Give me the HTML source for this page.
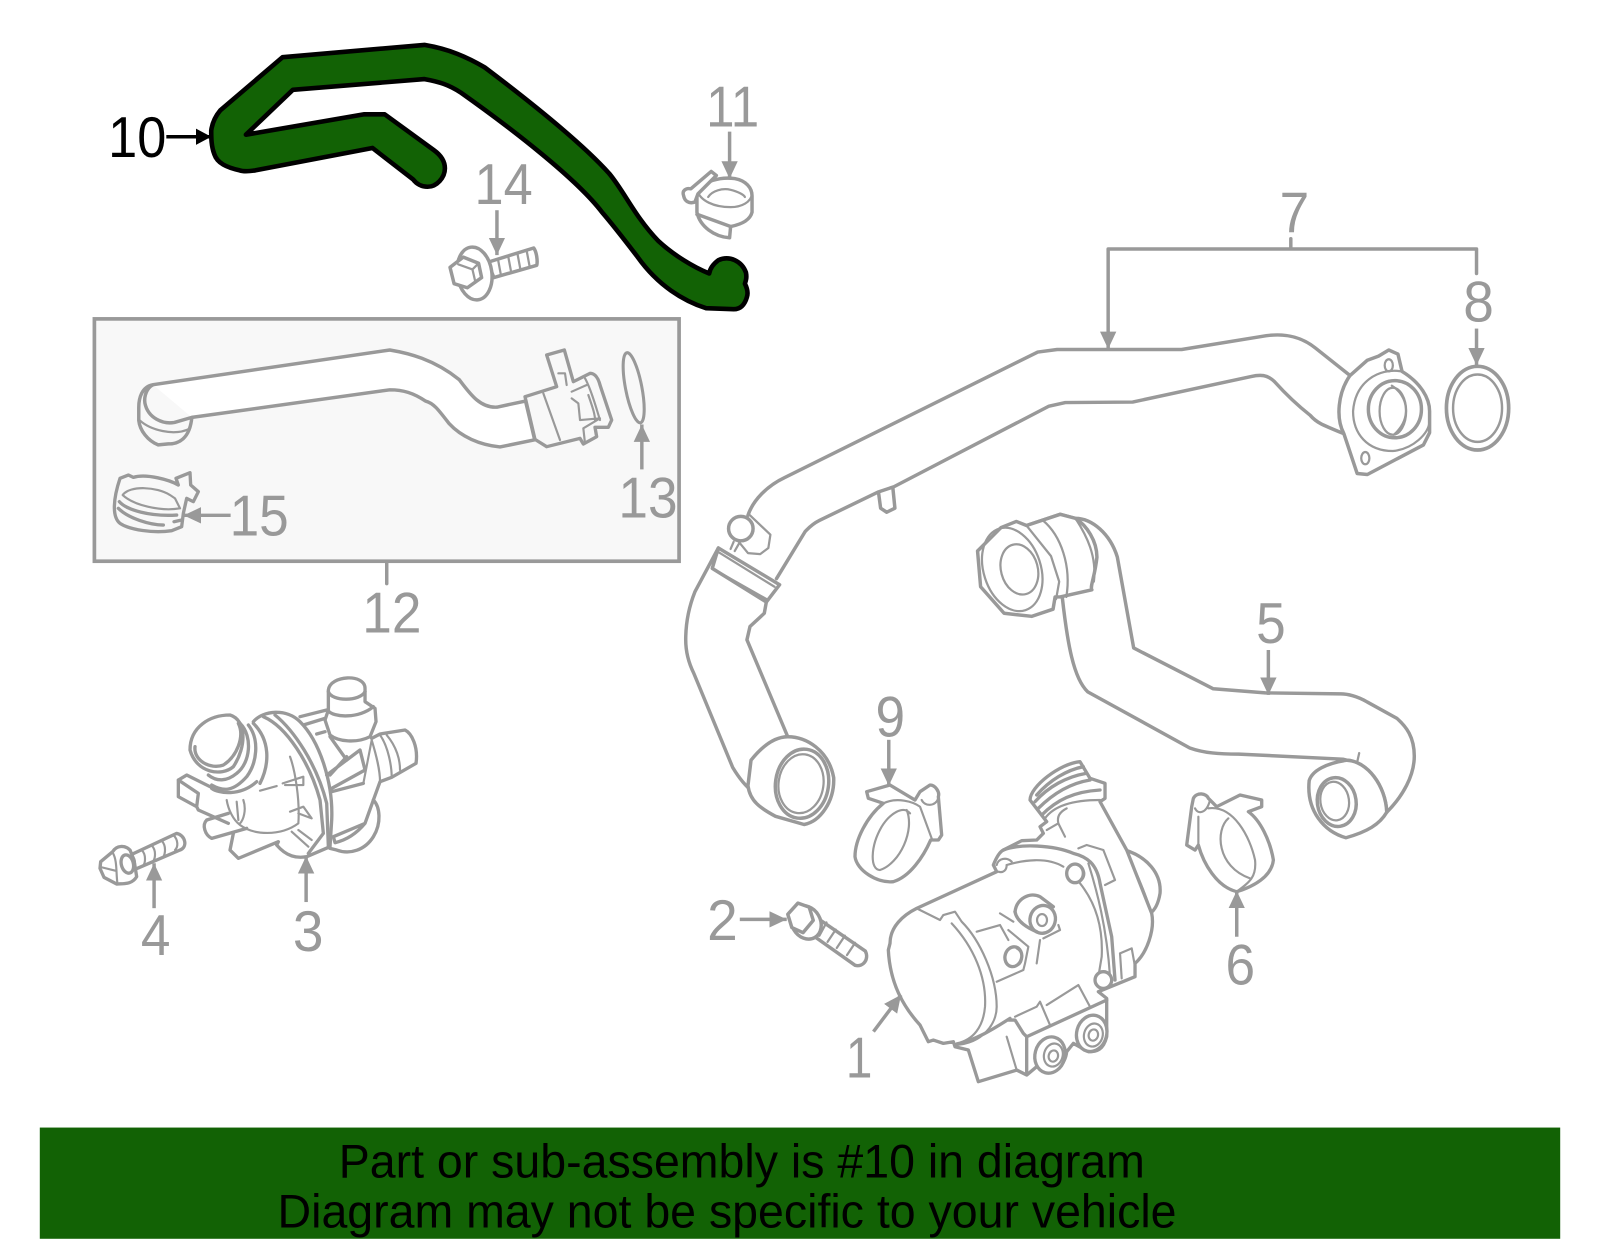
<!DOCTYPE html>
<html><head><meta charset="utf-8"><title>Part diagram</title>
<style>html,body{margin:0;padding:0;background:#fff}svg{display:block}
text{font-family:"Liberation Sans",sans-serif}
.g{fill:#fff;stroke:#999;stroke-width:3.4;stroke-linejoin:round;stroke-linecap:round}
.n{fill:none;stroke:#999;stroke-width:3.4;stroke-linejoin:round;stroke-linecap:round}
.t{fill:none;stroke:#999;stroke-width:2.2;stroke-linejoin:round;stroke-linecap:round}
.zg{fill:#fff;stroke:#999;stroke-width:10;stroke-linejoin:round;stroke-linecap:round}
.zf{fill:#f8f8f8;stroke:#999;stroke-width:10;stroke-linejoin:round;stroke-linecap:round}
.zn{fill:none;stroke:#999;stroke-width:10;stroke-linejoin:round;stroke-linecap:round}
.zt{fill:none;stroke:#999;stroke-width:6.5;stroke-linejoin:round;stroke-linecap:round}
.l{fill:#999;font-size:56px}
.a{fill:none;stroke:#999;stroke-width:3.4;marker-end:url(#ah)}
</style></head><body>
<svg width="1600" height="1249" viewBox="0 0 1568 1224" xmlns="http://www.w3.org/2000/svg">
<defs>
<marker id="ah" markerUnits="userSpaceOnUse" markerWidth="18" markerHeight="18" refX="17" refY="8" orient="auto"><path d="M0 0L17 8L0 16z" fill="#999"/></marker>
<marker id="ak" markerUnits="userSpaceOnUse" markerWidth="18" markerHeight="18" refX="15" refY="8" orient="auto"><path d="M0 0L15 8L0 16z" fill="#000"/></marker>
</defs>
<rect width="1568" height="1224" fill="#fff"/>

<!-- Part 10 hose -->
<path d="M277 56L416 44C440 48 458 56 475 66C520 100 570 140 597 170C612 188 622 212 645 236C660 250 680 262 695 268C696 262 700 258 704 255C715 250 727 256 731 267C732 272 731 275 730 278C733 284 733 288 732 291C730 298 726 303 719 303L692 302C670 295 645 280 625 252C612 235 602 222 590 208C565 175 500 125 452 91C440 83 430 80 416 77.500L287 88L241 132L357 112L377 112L425 147C432 152 436 158 436 165C436 174 428 183 419 183C413 183 408 180 405 176L365 145L250 167C243 168 238 168 235 167C222 164 213 160 210 151C207 143 207 135 207 128C208 120 211 114 216 108Z" fill="#126205" stroke="#000" stroke-width="4.500" stroke-linejoin="round"/>
<path d="M163 134L207 134" stroke="#000" stroke-width="3.400" marker-end="url(#ak)"/>

<!-- Clamp 11 -->
<g>
<path class="g" d="M683 186C690 178 705 173 720 175C731 177 737 184 737 192L737 208C735 216 726 220 716 222L715 233C700 232 686 222 683 208Z"/>
<path class="t" d="M683 186C686 197 700 203 716 203C727 203 736 198 737 190"/>
<path class="t" d="M694 193C698 187 708 184 716 186C724 188 729 191 730 193"/>
<path class="n" d="M683 210L716 222"/>
<path class="g" d="M670 192C668 187 672 184 677 185L697 168L702 172L684 190L681 198C675 200 671 197 670 192Z"/>
</g>
<path class="a" d="M715 129L715 175"/>

<!-- Bolt 14 -->
<g>
<path class="g" d="M478 257L523 243C526 247 527 256 526 260L484 272Z"/>
<path class="t" d="M488 254L491 270M498 251L501 267M507 248L510 264M516 245L519 261"/>
<ellipse class="g" cx="465" cy="268" rx="17" ry="26" transform="rotate(-8 465 268)"/>
<path class="g" d="M441 262L454 252L469 258L472 272L458 282L445 278Z"/>
<path class="t" d="M449 259L463 264L469 258M463 264L466 277"/>
</g>
<path class="a" d="M487 206L487 250"/>

<!-- Box 12 -->
<rect x="92.500" y="312.500" width="573" height="237.500" fill="#f8f8f8" stroke="#999" stroke-width="3.600"/>
<path class="n" d="M379 551L379 572"/>

<!-- Hose in box -->
<path d="M150 377L382 343C400 346 425 352 450 372C460 385 470 400 487 399L515 393L524 431L490 438C470 436 452 428 440 415C430 402 425 395 417 393C405 385 395 382 382 382L188 409" fill="#fff" stroke="#999" stroke-width="3.400" stroke-linejoin="round"/>
<path d="M150 377C139 379 136 390 136 399L136 412C137 422 145 432 155 436L165 435C175 435 186 430 188 409L171 414C160 416 145 410 142 395C141 388 144 380 150 377Z" fill="#f8f8f8" stroke="#999" stroke-width="3.400" stroke-linejoin="round"/>
<path class="t" d="M137 412C147 421 170 428 186 420"/>
<g transform="translate(509.6 333.2) scale(.3267)">
<path class="zf" d="M15 170L110 140L80 45L133 30L160 125L210 100C225 100 235 115 240 135L275 240L265 262L225 262L230 290L190 312L180 295L80 320L45 298Z"/>
<path class="zt" d="M70 160L120 300M115 100L135 100L140 135M195 115C215 150 230 210 240 240M155 175L175 190L180 240L240 235L190 265L195 310M155 155L200 135M205 165C215 195 225 220 225 240"/>
</g>
<ellipse cx="621" cy="380" rx="8" ry="35" fill="none" stroke="#999" stroke-width="3" transform="rotate(-11 621 380)"/>
<path class="a" d="M629 460L629 416"/>

<!-- Clamp 15 -->
<g transform="translate(98 362.600) scale(.3267)">
<path class="zf" d="M60 325L85 315L100 322C140 310 210 330 235 345L228 325L270 308L272 345L295 365L280 395L260 385L250 430L245 470L215 482C160 490 90 480 60 460C35 440 40 385 60 325Z"/>
<path class="zt" d="M68 375C90 345 170 350 210 375L225 385L240 415C180 425 100 405 68 375Z"/>
<path class="zn" d="M58 395C80 420 150 440 230 435M55 415C85 445 150 465 190 465M222 455L245 450"/>
</g>
<path class="a" d="M226 505L180 505"/>

<!-- Part 7 pipe -->
<path class="a" d="M1086 244L1086 342"/>
<path class="n" d="M1086 244L1447 244L1447 268M1265 234L1265 244"/>
<path class="a" d="M1447 322L1447 358"/>
<path class="n" d="M733 505C738 490 752 476 769 468L1017 345L1036 342.500L1158 342.500L1241 329C1262 326 1278 332 1289 341L1323 368M1317 425C1295 416 1290 414 1284 407C1270 396 1258 384 1249 374C1242 367 1235 367 1226 369L1110 394L1044 394.500L1028 398L876 477L861 482L803 510C795 514 792 518 789 521L761 567"/>
<path class="n" d="M861 483L863 498L869 502L877 498L875 478"/>
<!-- Flange -->
<path class="g" d="M1323 368L1340 353L1351 349L1361 343L1370 347L1374 364C1392 375 1401 390 1401 403L1401 424L1395 436L1340 465L1330 464L1317 425C1309 410 1311 385 1323 368Z"/>
<path class="t" d="M1374 364C1350 360 1328 375 1326 403C1326 425 1340 442 1365 442C1385 440 1400 425 1401 413"/>
<ellipse class="n" cx="1367" cy="401" rx="26" ry="28" stroke-width="2.600"/>
<ellipse class="t" cx="1365" cy="403" rx="13" ry="23"/>
<path class="t" d="M1364 378C1380 388 1384 410 1366 426"/>
<ellipse class="t" cx="1361" cy="358" rx="4" ry="6"/>
<ellipse class="t" cx="1338" cy="449" rx="4" ry="6"/>
<!-- Gasket 8 -->
<ellipse cx="1448" cy="400" rx="30.500" ry="41" fill="#fff" stroke="#999" stroke-width="3.600"/>
<ellipse cx="1448" cy="400" rx="24" ry="33" fill="none" stroke="#999" stroke-width="2.400"/>

<!-- Lower hose of 7 -->
<path class="n" d="M704 537L681 580C675 595 672 610 672 627C672 640 675 650 680 660L718 752C724 762 730 770 738 776M751 590L749 601L735 614L732 627L772 722"/>
<path class="g" d="M704 537L764 573L751 590L698 557Z"/>
<path class="t" d="M704 541L759 575"/>
<path class="t" d="M698 557L751 587"/>
<path class="t" d="M719 531L716 538M724 533L720 540"/>
<path class="t" d="M735 505L755 524L753 537L745 543L733 542L724 531"/>
<circle class="g" cx="726" cy="518" r="12" stroke-width="3"/>
<path class="g" d="M736 745C748 730 760 722 772 722C790 722 812 735 817 762C818 785 804 805 788 808L760 800C745 792 735 785 733 770Z"/>
<ellipse class="n" cx="786" cy="768" rx="26" ry="34" transform="rotate(8 786 768)" stroke-width="2.600"/>
<ellipse class="t" cx="785" cy="768" rx="22" ry="29" transform="rotate(8 785 768)"/>

<!-- Hose 5 -->
<path class="g" d="M1041 585C1046 630 1052 665 1066 678L1166 733C1180 738 1195 739 1214 739L1316 744L1320 745C1340 746 1358 770 1359 796C1375 780 1386 760 1386 741C1386 722 1378 712 1369 704L1340 688C1330 682 1320 680 1314 680L1240 679L1189 675L1111 635L1095 546C1088 523 1070 508 1054 508L1039 504L1006 515Z"/>
<path class="g" d="M1283 765C1286 755 1300 748 1320 745C1340 746 1358 770 1359 796C1352 808 1340 815 1319 821C1298 815 1280 795 1283 765Z"/>
<ellipse class="n" cx="1310" cy="786" rx="19" ry="24" transform="rotate(-8 1310 786)" stroke-width="2.400"/>
<ellipse class="t" cx="1308" cy="785" rx="14" ry="19" transform="rotate(-8 1308 785)"/>
<path class="t" d="M1330 747L1332 738"/>
<path class="g" d="M958 540L981 517L996 511L1006 515L1039 504L1054 508C1065 515 1075 530 1075 546C1073 565 1068 575 1070 578L1039 585L1034 585L1032 597L1011 604L984 601L961 575Z"/>
<path class="t" d="M1006 515L1030 545L1038 570L1035 587M1022 510C1040 525 1050 555 1045 585M1054 508C1065 525 1075 545 1072 570"/>
<ellipse class="t" cx="992" cy="558" rx="28" ry="42" transform="rotate(-18 992 558)"/>
<ellipse class="t" cx="999" cy="558" rx="18" ry="25" transform="rotate(-15 999 558)"/>
<path class="a" d="M1243 637L1243 681"/>

<!-- Pump 1, clamps 9, 6 -->
<g transform="translate(823.2 735) scale(.3267)">
<!-- clamp 9 -->
<path class="zg" d="M80 125L150 105L225 150L240 125L270 105C285 105 300 125 295 140L305 255L295 270L272 270C250 320 210 380 160 395C110 400 50 360 45 320C45 270 80 200 130 160L85 145Z"/>
<path class="zt" d="M130 160C170 140 220 155 240 170L275 265M200 180C225 240 180 340 120 360C90 360 90 290 125 230C150 190 190 165 210 190M245 150C255 170 285 170 295 145"/>
<!-- clamp 6 -->
<path class="zg" d="M1055 170L1040 285L1065 300L1075 285C1090 340 1130 410 1190 425C1240 410 1295 380 1300 330C1290 270 1260 210 1225 185L1265 170L1265 150L1200 135L1130 170L1105 145C1100 130 1070 125 1060 145Z"/>
<path class="zt" d="M1105 175C1180 165 1230 260 1245 330C1250 380 1230 395 1190 425M1165 205C1125 240 1130 350 1230 385M1065 175C1075 195 1100 190 1110 150M1075 200L1075 285"/>
<!-- pump dome -->
<path class="zg" d="M855 300C920 320 965 370 960 430C955 460 945 480 930 490Z"/>
<path class="zt" d="M870 330C890 370 920 440 930 480"/>
<!-- pump -->
<path class="zg" d="M150 580C150 530 190 495 230 475L470 365L460 345C470 320 480 305 490 300L545 272L590 270L610 250L600 230L620 215L570 150C570 110 660 40 720 35L750 85L795 100L795 145L780 155L860 300L935 490C945 540 920 610 885 640L885 680L775 725L800 745L800 860C790 900 770 905 745 905L700 880L680 905C675 950 640 965 615 965L590 950L560 975L530 960L415 995L385 900L345 890L340 875L310 880L280 870L265 875L250 845L240 825C190 770 150 700 145 600Z"/>
<path class="zn" d="M490 300C540 280 640 285 700 310C740 320 770 340 780 400L815 560L825 690" stroke-width="8"/>
<path class="zt" d="M500 345C550 330 620 320 670 350M745 340C770 420 800 530 810 680M720 400C760 450 790 520 785 620L775 680M715 295L740 285L790 300L825 390L795 405"/>
<path class="zt" d="M230 475L300 510L310 495L345 485L365 515C420 570 470 680 470 770C470 820 430 880 345 885M335 520C400 590 440 680 435 770C430 830 400 870 350 880"/>
<path class="zn" d="M590 135C630 90 680 60 730 50M585 155C625 110 680 80 738 70M595 175C640 130 690 100 750 90M605 195C650 150 700 125 780 120" stroke-width="6.500"/>
<path class="zt" d="M615 205C640 170 690 150 780 150M620 240L655 220L675 260M655 220C650 200 660 185 680 175"/>
<path class="zn" d="M525 485C530 445 570 425 600 440L640 470" stroke-width="8"/>
<ellipse class="zg" cx="608" cy="508" rx="38" ry="42" transform="rotate(15 608 508)" stroke-width="8"/>
<ellipse class="zt" cx="606" cy="510" rx="15" ry="18"/>
<path class="zn" d="M525 485C530 515 565 535 590 545" stroke-width="8"/>
<path class="zt" d="M480 490L520 515M410 545L480 525L505 570M505 540L565 590L555 640M600 570L590 640M610 565L660 540L655 525M470 695L550 660L555 640"/>
<ellipse class="zg" cx="520" cy="620" rx="25" ry="30" transform="rotate(15 520 620)" stroke-width="6.500"/>
<path class="zt" d="M530 595C550 605 550 635 535 645"/>
<ellipse class="zg" cx="705" cy="370" rx="25" ry="28" stroke-width="6.500"/>
<path class="zt" d="M712 345C735 350 740 380 722 392M470 345C475 325 500 320 515 335M475 365C490 370 500 360 500 345"/>
<ellipse class="zg" cx="790" cy="690" rx="25" ry="25" stroke-width="6.500"/>
<path class="zt" d="M525 800L590 770L600 755L630 825M620 765L715 705L750 770M500 860L530 960M840 610L875 595L885 650M840 610L845 685"/>
<path class="zn" d="M505 810L525 810L550 850L560 860L560 965M560 860L800 750M510 805C470 830 420 865 345 885" stroke-width="8"/>
<ellipse class="zg" cx="630" cy="915" rx="45" ry="55" transform="rotate(15 630 915)" stroke-width="8"/>
<ellipse class="zt" cx="640" cy="915" rx="28" ry="35" transform="rotate(15 640 915)"/>
<ellipse class="zt" cx="640" cy="918" rx="14" ry="17" transform="rotate(15 640 918)"/>
<ellipse class="zg" cx="755" cy="850" rx="45" ry="55" transform="rotate(15 755 850)" stroke-width="8"/>
<ellipse class="zt" cx="760" cy="855" rx="28" ry="35" transform="rotate(15 760 855)"/>
<ellipse class="zt" cx="760" cy="855" rx="14" ry="17" transform="rotate(15 760 855)"/>
</g>
<path class="a" d="M871 725L871 770"/>
<path class="a" d="M1212 918L1212 873"/>
<path class="a" d="M856 1011L883 975"/>

<!-- Bolt 2 -->
<g>
<path class="g" d="M797 897L848 932C852 940 846 948 838 946L790 912Z"/>
<path class="t" d="M810 904L803 917M819 911L811 923M828 917L820 929M838 924L830 936"/>
<ellipse class="g" cx="790" cy="904" rx="14" ry="17" transform="rotate(-30 790 904)"/>
<path class="g" d="M772 896L782 885L793 889L797 902L787 914L776 909Z"/>
</g>
<path class="a" d="M725 901L771 901"/>

<!-- Part 3 + bolt 4 -->
<g transform="translate(88.2 646.8) scale(.3267)">
<path class="zn" d="M850 420C870 440 875 490 850 530C825 570 780 585 740 570L720 565"/>
<path class="zn" d="M845 235L870 222L945 210C965 220 985 260 978 310L905 352L870 365L850 420L825 490L730 530L735 548C770 540 800 520 825 490"/>
<path class="zt" d="M870 225C895 260 905 320 905 352M890 225C920 260 930 300 930 330M845 240C860 290 870 330 870 365M845 240L820 370"/>
<path class="zg" d="M715 90C720 45 825 40 825 85L825 125L855 145L858 185L840 230C800 250 745 245 720 225L705 180L715 150Z"/>
<path class="zn" d="M715 95C725 125 810 125 825 95M712 150C730 175 810 175 850 140"/>
<path class="zn" d="M630 170L710 150M640 195L705 175M680 222L705 215M720 230L770 300"/>
<path class="zn" d="M710 345L770 300L810 270L825 330L725 385M725 395L820 370M770 290L720 345" stroke-width="7"/>
<path class="zn" d="M490 185C520 150 590 145 630 185C690 245 730 370 725 480L720 560L650 590C620 595 590 590 560 555L565 545L445 595L420 570L430 520"/>
<path class="zn" d="M520 170C590 200 660 310 690 420L700 520L655 580M555 165C610 210 680 310 710 430L715 560" stroke-width="8"/>
<path class="zn" d="M415 460L350 480C335 495 345 525 365 535L470 505" />
<path class="zn" d="M265 360L290 345L360 380M265 360L265 410L320 440L325 400L265 360M320 440L325 450L415 490"/>
<path class="zg" d="M300 270C300 200 360 165 420 165C470 180 470 260 430 320C395 350 320 340 300 270Z"/>
<path class="zn" d="M315 260C310 300 360 330 400 315C440 290 465 230 445 190" stroke-width="7"/>
<path class="zn" d="M450 190C490 230 480 310 440 340C410 365 380 365 355 345M475 195C510 240 500 310 470 350C430 395 400 395 365 375M490 190C540 240 540 310 510 370" stroke-width="8"/>
<path class="zn" d="M365 385C385 400 450 410 500 365" stroke-width="7"/>
<path class="zt" d="M410 420C415 450 430 480 450 495C490 525 570 530 625 490M440 425L445 480M460 420C470 450 460 480 450 490M600 290C615 330 630 420 625 490M510 392L560 378M578 370L640 350L640 375L585 375M600 455L640 440L665 475L625 460M605 515L655 560M625 510L665 540"/>
<!-- bolt 4 -->
<path class="zg" d="M110 590L260 520C285 525 295 560 270 570L130 630Z"/>
<path class="zt" d="M125 585C140 600 135 625 130 630M155 570C170 585 165 610 160 616M185 556C200 572 195 595 190 603M215 542C230 558 225 582 220 590M250 525C265 540 265 560 255 570"/>
<path class="zg" d="M32 605L68 575C80 555 105 555 120 570L132 600L140 650C125 675 100 670 80 672L42 652L30 625Z"/>
<ellipse class="zn" cx="112" cy="612" rx="18" ry="28" transform="rotate(-15 112 612)" stroke-width="8"/>
<path class="zt" d="M68 578C82 600 78 640 82 668M36 622L76 632"/>
</g>
<path class="a" d="M300 884L300 839"/>
<path class="a" d="M151 890L151 846"/>

<!-- Labels -->
<text x="106" y="154" font-size="56" fill="#000" textLength="57" lengthAdjust="spacingAndGlyphs">10</text>
<text class="l" x="692" y="124" textLength="52" lengthAdjust="spacingAndGlyphs">11</text>
<text class="l" x="465" y="200" textLength="57" lengthAdjust="spacingAndGlyphs">14</text>
<text class="l" x="1254" y="228" textLength="29" lengthAdjust="spacingAndGlyphs">7</text>
<text class="l" x="1434" y="315" textLength="30" lengthAdjust="spacingAndGlyphs">8</text>
<text class="l" x="606" y="507" textLength="58" lengthAdjust="spacingAndGlyphs">13</text>
<text class="l" x="225" y="525" textLength="58" lengthAdjust="spacingAndGlyphs">15</text>
<text class="l" x="355" y="620" textLength="58" lengthAdjust="spacingAndGlyphs">12</text>
<text class="l" x="1231" y="630" textLength="29" lengthAdjust="spacingAndGlyphs">5</text>
<text class="l" x="858" y="722" textLength="29" lengthAdjust="spacingAndGlyphs">9</text>
<text class="l" x="693" y="921" textLength="30" lengthAdjust="spacingAndGlyphs">2</text>
<text class="l" x="287" y="932" textLength="30" lengthAdjust="spacingAndGlyphs">3</text>
<text class="l" x="138" y="936" textLength="29" lengthAdjust="spacingAndGlyphs">4</text>
<text class="l" x="1201" y="965" textLength="29" lengthAdjust="spacingAndGlyphs">6</text>
<text class="l" x="829" y="1056" textLength="26" lengthAdjust="spacingAndGlyphs">1</text>

<!-- Banner -->
<rect x="39" y="1105" width="1490" height="109" fill="#126205"/>
<text x="332" y="1154" font-size="46" fill="#000" textLength="790" lengthAdjust="spacingAndGlyphs">Part or sub-assembly is #10 in diagram</text>
<text x="272" y="1203" font-size="46" fill="#000" textLength="881" lengthAdjust="spacingAndGlyphs">Diagram may not be specific to your vehicle</text>
</svg>
</body></html>
